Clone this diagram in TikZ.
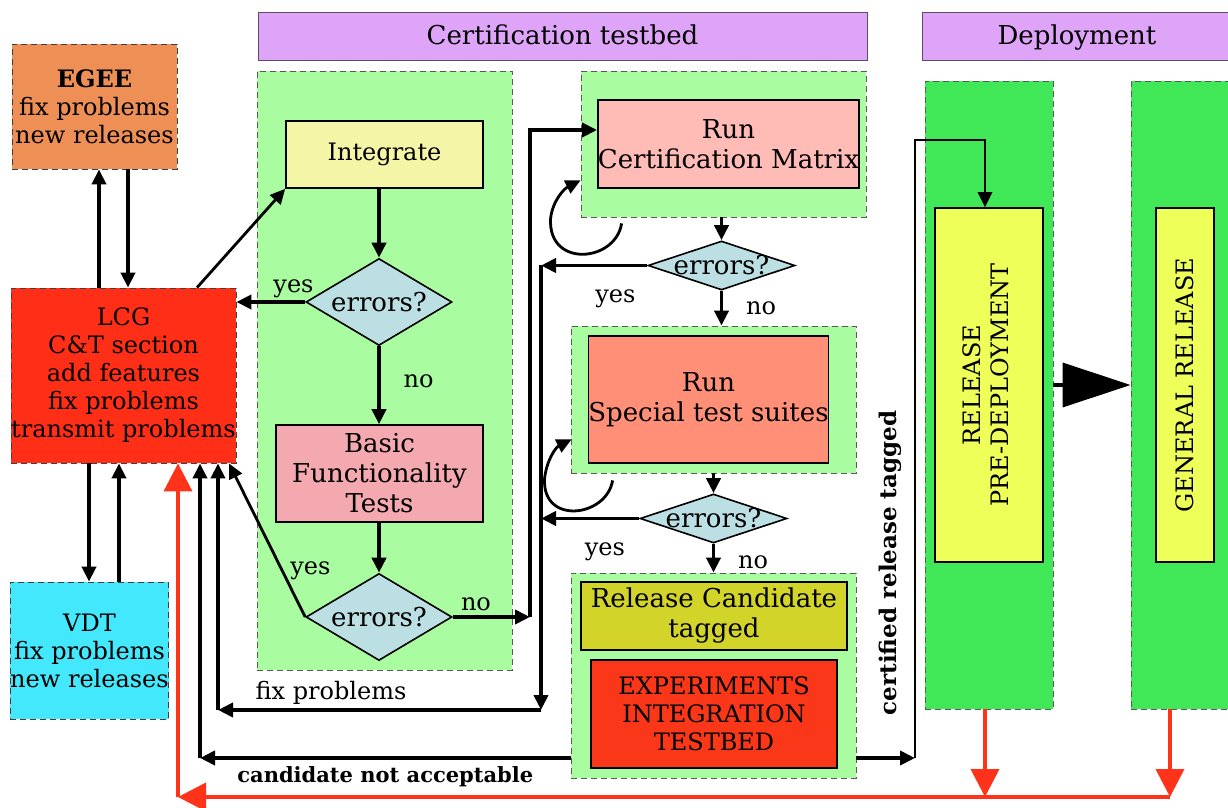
\documentclass[tikz,border=0pt]{standalone}
\usepackage{fontspec}
\setmainfont{DejaVu Serif}
\usetikzlibrary{arrows.meta}
\usetikzlibrary{positioning, shapes.geometric, calc}
\definecolor{headviolet}{HTML}{DEA4F8}
\definecolor{headborder}{HTML}{5F4B6B}
\definecolor{testgreen}{HTML}{AAFCA0}
\definecolor{depgreen}{HTML}{40E858}
\definecolor{egeeorange}{HTML}{EE9055}
\definecolor{lcgred}{HTML}{FF2E17}
\definecolor{vdtcyan}{HTML}{43E8FC}
\definecolor{integrateyellow}{HTML}{F5F5A8}
\definecolor{errblue}{HTML}{BBDFE3}
\definecolor{basicpink}{HTML}{F4A8AF}
\definecolor{matrixpink}{HTML}{FFBBB5}
\definecolor{suitesalmon}{HTML}{FF9077}
\definecolor{candolive}{HTML}{D2D42A}
\definecolor{exptred}{HTML}{FA3718}
\definecolor{releaseyellow}{HTML}{EEFF5A}
\definecolor{arrowred}{HTML}{FF3319}
\tikzset{
phase head/.style = { rectangle, draw = headborder, fill = headviolet, minimum height = 24pt, inner sep = 0pt, text height = 9.5pt, text depth = 0.5pt, font = \fontsize{13}{15}\selectfont },
panel/.style = { rectangle, draw = black!65, densely dashed, fill = #1, inner sep = 0pt },
partner/.style = { rectangle, draw = black!75, densely dashed, fill = #1, align = center, inner sep = 0pt },
stepbox/.style = { rectangle, draw = black, line width = 0.8pt, fill = #1, align = center, inner sep = 0pt },
decision/.style = { diamond, draw = black, line width = 0.8pt, fill = errblue, inner sep = 0pt, minimum width = 73pt, minimum height = 43.5pt, label = {[font = \fontsize{13}{15}\selectfont]center:errors?} },
flow arrow/.style = { -{Triangle[length = 7.5pt, width = 7pt]}, line width = 1.9pt },
thin flow/.style = { -{Triangle[length = 7.5pt, width = 7pt]}, line width = 1.4pt },
big flow/.style = { -{Triangle[length = 34pt, width = 22pt]}, line width = 1.8pt },
red flow/.style = { draw = arrowred, -{Triangle[length = 14pt, width = 14pt]}, line width = 1.9pt, arrowred },
}
\begin{document}
\begin{tikzpicture}[x = 0.5pt, y = -0.5pt, font = \fontsize{12}{14}\selectfont]
\useasboundingbox (0, 0) rectangle (1228, 808);

% phases
\node[phase head, minimum width = 304.5pt] (certhead) at (562.5, 36) {Certification testbed};
\node[phase head, minimum width = 155pt] (dephead) at (1077, 36) {Deployment};

% panels
\node[panel = testgreen, minimum width = 127.5pt, minimum height = 299.5pt] (p1) at (384.5, 370.5) {};
\node[panel = testgreen, minimum width = 142.5pt, minimum height = 73pt] (p2) at (723.5, 144) {};
\node[panel = testgreen, minimum width = 142.5pt, minimum height = 73.5pt] (p3) at (713.5, 399.5) {};
\node[panel = testgreen, minimum width = 142.5pt, minimum height = 102.5pt] (p4) at (713.5, 675.5) {};
\node[panel = depgreen, minimum width = 64pt, minimum height = 314pt] (d1) at (989, 395) {};
\node[panel = depgreen, minimum width = 50.5pt, minimum height = 314pt] (d2) at (1181.5, 395) {};

% partners
\node[partner = egeeorange, minimum width = 82.5pt, minimum height = 62.5pt] (egee) at (94.5, 106.5) {\textbf{EGEE}\\fix problems\\new releases};
\node[partner = lcgred, minimum width = 112.5pt, minimum height = 87.5pt] (lcg) at (123.5, 375.5) {LCG\\C\&T section\\add features\\fix problems\\transmit problems};
\node[partner = vdtcyan, minimum width = 78.5pt, minimum height = 68.5pt] (vdt) at (89.5, 650.5) {VDT\\fix problems\\new releases};

% certification steps
\node[stepbox = integrateyellow, minimum width = 98.5pt, minimum height = 33.5pt] (integrate) at (384.5, 154.5) {Integrate};
\node[decision] (err1) at (379, 302) {};
\node[stepbox = basicpink, minimum width = 103.5pt, minimum height = 48.5pt, font = \fontsize{13}{15}\selectfont] (basic) at (379.5, 473.5) {Basic\\Functionality\\Tests};
\node[decision] (err2) at (379, 617) {};
\node[stepbox = matrixpink, minimum width = 128.5pt, minimum height = 44pt, font = \fontsize{13}{15}\selectfont] (certm) at (728.5, 144) {Run\\Certification Matrix};
\node[decision, minimum width = 73.5pt, minimum height = 24.5pt] (err3) at (721.5, 265.5) {};
\node[stepbox = suitesalmon, minimum width = 118.5pt, minimum height = 63.5pt, font = \fontsize{13}{15}\selectfont] (suites) at (708.5, 399.5) {Run\\Special test suites};
\node[decision, minimum width = 73.5pt, minimum height = 24.5pt] (err4) at (713.5, 518.5) {};
\node[stepbox = candolive, minimum width = 133pt, minimum height = 34pt, font = \fontsize{13}{15}\selectfont] (cand) at (714, 616) {Release Candidate\\tagged};
\node[stepbox = exptred, minimum width = 123pt, minimum height = 54pt] (expt) at (714, 714) {EXPERIMENTS\\INTEGRATION\\TESTBED};

% deployment
\node[stepbox = releaseyellow, minimum width = 54pt, minimum height = 177pt] (rel) at (989, 385) {\rotatebox{90}{\begin{tabular}{@{}c@{}}RELEASE\\PRE-DEPLOYMENT\end{tabular}}};
\node[stepbox = releaseyellow, minimum width = 29pt, minimum height = 177pt] (gen) at (1185, 385) {\rotatebox{90}{GENERAL RELEASE}};

% helper columns and rows
\coordinate (c89) at (89, 0);
\coordinate (c99) at (99, 0);
\coordinate (c119) at (119, 0);
\coordinate (c128) at (128, 0);
\coordinate (c178) at (178, 0);
\coordinate (c197) at (197, 0);
\coordinate (c200) at (200, 0);
\coordinate (c218) at (218, 0);
\coordinate (c229) at (229, 0);
\coordinate (busA) at (530, 0);
\coordinate (busB) at (541, 0);
\coordinate (c915) at (915, 0);
\coordinate (c985) at (985, 140);
\coordinate (c1170) at (1170, 0);
\coordinate (fixp) at (541, 710);
\coordinate (rowc) at (0, 758);
\coordinate (rowr) at (0, 797);
\coordinate (certin) at ($(certm.west) + (0, -14)$);

% partners <-> LCG
\draw[flow arrow] (lcg.north -| c99) -- (egee.south -| c99);
\draw[flow arrow] (egee.south -| c128) -- (lcg.north -| c128);
\draw[flow arrow] (lcg.south -| c89) -- (vdt.north -| c89);
\draw[flow arrow] (vdt.north -| c119) -- (lcg.south -| c119);
\draw[thin flow] (lcg.north -| c197) -- (integrate.south west);

% first panel
\draw[flow arrow] (integrate.south -| err1.north) -- (err1.north);
\draw[flow arrow] (err1.west) -- (err1.west -| lcg.east) node[pos = 0.17, above, inner sep = 1pt] {yes};
\draw[flow arrow] (err1.south) -- (basic.north -| err1.south) node[pos = 0.45, right, xshift = 8pt] {no};
\draw[flow arrow] (basic.south -| err2.north) -- (err2.north);
\draw[thin flow] (err2.west) -- (lcg.south -| c229) node[pos = 0.3, right] {yes};
\draw[flow arrow] (err2.east) -- (err2.east -| busA) node[pos = 0.3, above, inner sep = 2pt] {no};
\draw[flow arrow] (err2.east -| busA) |- (certin);

% matrix and suites
\draw[flow arrow] (err3.north |- p2.south) -- (err3.north);
\draw[flow arrow] (err3.west) -- (err3.west -| busB) node[pos = 0.3, below = 8pt] {yes};
\draw[flow arrow] (err3.south) -- (err3.south |- p3.north) node[midway, right, xshift = 8pt] {no};
\draw[flow arrow] (err4.north |- p3.south) -- (err4.north);
\draw[flow arrow] (err4.west) -- (err4.west -| busB) node[pos = 0.35, below = 8pt] {yes};
\draw[flow arrow] (err4.south) -- (err4.south |- p4.north) node[pos = 0.65, right, xshift = 8pt] {no};
\draw[thin flow] ($(p2.south west) + (41, 6)$) .. controls +(-6, 39) and +(-3, 50) .. ($(p2.south west) + (-30, 1)$) .. controls +(2, -18) and +(-16, 8) .. ($(p2.south west) + (0, -37)$);
\draw[thin flow] ($(p3.south west) + (42, 7)$) .. controls +(-6, 37) and +(-3, 47) .. ($(p3.south west) + (-26, 5)$) .. controls +(2, -18) and +(-16, 8) .. ($(p3.south west) + (1, -34)$);

% back to LCG
\draw[flow arrow] (err3.west -| busB) -- (fixp);
\draw[flow arrow] (fixp) -- (fixp -| c218) node[pos = 0.65, above, inner sep = 2pt] {fix problems};
\draw[flow arrow] (fixp -| c218) -- (lcg.south -| c218);
\draw[flow arrow] (rowc -| p4.west) -- (rowc -| c200) node[midway, below, font = \bfseries\fontsize{10.5}{12}\selectfont] {candidate not acceptable};
\draw[flow arrow] (rowc -| c200) -- (lcg.south -| c200);

% to deployment
\draw[flow arrow] (rowc -| p4.east) -- (rowc -| c915);
\draw[thin flow] (rowc -| c915) |- (c985) -- (rel.north -| c985);
\node[rotate = 90, font = \bfseries\fontsize{11.5}{13}\selectfont] (certlabel) at (890, 563) {certified release tagged};
\draw[big flow] (d1.east |- rel.east) -- (d2.west |- rel.east);

% feedback
\draw[red flow] (d1.south -| c985) -- (rowr -| c985);
\draw[red flow] (d2.south -| c1170) -- (rowr -| c1170);
\draw[red flow] (rowr -| c1170) -- (rowr -| c178);
\draw[red flow] (rowr -| c178) -- (lcg.south -| c178);
\end{tikzpicture}
\end{document}
